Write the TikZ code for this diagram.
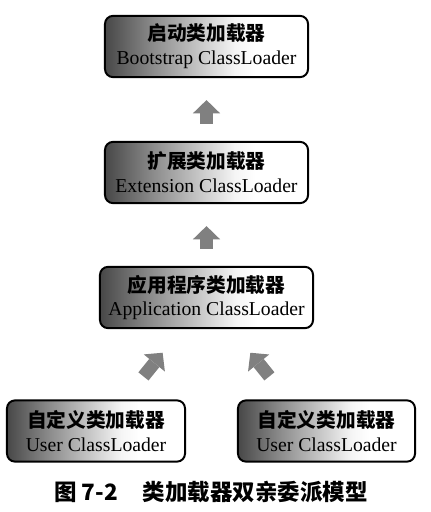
\documentclass[tikz,border=0pt]{standalone}
\usepackage{fontspec}
\setmainfont{Liberation Serif}
\newfontfamily\cjk{Noto Sans CJK SC}
\usetikzlibrary{arrows.meta,calc}
\pgfdeclarehorizontalshading{loadershade}{100bp}{color(0bp)=(black!72); color(25bp)=(black!72); color(37bp)=(black!45); color(57bp)=(black!4); color(62bp)=(white); color(100bp)=(white)}
\tikzset{
  loader/.style={draw, line width=1.4pt, rounded corners=0.2cm, shade, shading=loadershade,
    minimum height=1.53cm, inner sep=2pt, align=center, font=\fontsize{14}{17}\selectfont},
  delegate/.style={black!50, line width=0.325cm,
    -{Triangle[length=0.33cm, width=0.68cm, line width=0pt]}}
}
\newcommand{\loadertext}[2]{{\cjk\bfseries #1}\\#2}
\begin{document}
\begin{tikzpicture}[x=0.025cm, y=-0.025cm]
      \useasboundingbox (0,0) rectangle (431,512);
      \draw
        (206.5,46.5) node[loader, minimum width=5.075cm] (boot){\loadertext{启动类加载器}{Bootstrap ClassLoader}}
        (206.5,172.5) node[loader, minimum width=5.075cm] (ext){\loadertext{扩展类加载器}{Extension ClassLoader}}
        (206.5,297.5) node[loader, minimum width=5.325cm] (app){\loadertext{应用程序类加载器}{Application ClassLoader}}
        (96,431) node[loader, minimum width=4.45cm] (userleft){\loadertext{自定义类加载器}{User ClassLoader}}
        (326.5,431) node[loader, minimum width=4.425cm] (userright){\loadertext{自定义类加载器}{User ClassLoader}}
        (211,492) node (caption){\cjk\bfseries\fontsize{16}{16}\selectfont 图 7-2\hspace{1.1em}类加载器双亲委派模型};
      \begin{scope}[delegate]
        \draw[shorten <=0.425cm, shorten >=0.55cm] (ext.north) to (boot.south);
        \draw[shorten <=0.425cm, shorten >=0.55cm] (app.north) to (ext.south);
        \draw[shorten <=0.74cm, shorten >=0.76cm] ($(userleft.north west)!0.66!(userleft.north east)$) to ($(app.south west)!0.385!(app.south east)$);
        \draw[shorten <=0.74cm, shorten >=0.76cm] ($(userright.north west)!0.285!(userright.north east)$) to ($(app.south west)!0.615!(app.south east)$);
      \end{scope}
    \end{tikzpicture}
\end{document}
